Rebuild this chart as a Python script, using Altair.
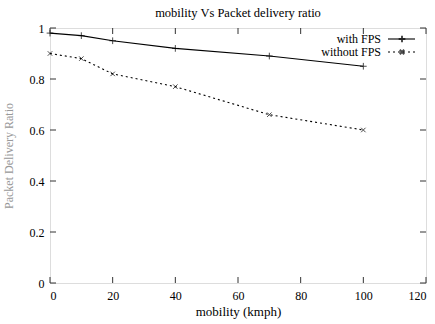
import altair as alt
import pandas as pd

mobility = [0, 10, 20, 40, 70, 100]
with_fps = [0.98, 0.97, 0.95, 0.92, 0.89, 0.85]
without_fps = [0.90, 0.88, 0.82, 0.77, 0.66, 0.60]
series_names = ["with FPS", "without FPS"]
x_ticks = [0, 20, 40, 60, 80, 100, 120]
y_ticks = [0, 0.2, 0.4, 0.6, 0.8, 1.0]

W, H = 376, 255
FONT = "Liberation Serif"

df1 = pd.DataFrame({"x": mobility, "y": with_fps, "s": series_names[0]})
df2 = pd.DataFrame({"x": mobility, "y": without_fps, "s": series_names[1]})
xt = pd.DataFrame({"v": x_ticks})
yt = pd.DataFrame({"v": y_ticks})

xscale = alt.Scale(domain=[0, 120], nice=False, zero=False)
yscale = alt.Scale(domain=[0, 1], nice=False, zero=False)

xaxis = alt.Axis(values=x_ticks, ticks=False, domain=False, grid=False, labelPadding=7,
                 title="mobility (kmph)", titlePadding=4, labelFontSize=12, titleFontSize=13,
                 labelFont=FONT, titleFont=FONT, titleFontWeight="normal", labelColor="black",
                 titleColor="black", format="d")
yaxis = alt.Axis(values=y_ticks, ticks=False, domain=False, grid=False, labelPadding=6,
                 title="Packet Delivery Ratio", titlePadding=14, labelFontSize=12,
                 labelFont=FONT, titleFont=FONT, titleFontWeight="normal", labelColor="black",
                 titleFontSize=12, titleColor="#999",
                 labelExpr="datum.value == 0 || datum.value == 1 ? format(datum.value, 'd') : format(datum.value, '.1f')")

PLUS = "M-1,0L1,0M0,-1L0,1"
CROSS = "M-1,-1L1,1M-1,1L1,-1"

line1 = alt.Chart(df1).mark_line(color="black", strokeWidth=1.1).encode(
    x=alt.X("x:Q", scale=xscale, axis=xaxis),
    y=alt.Y("y:Q", scale=yscale, axis=yaxis),
)
pts1 = alt.Chart(df1).mark_point(shape=PLUS, size=45, color="black", strokeWidth=1, filled=False).encode(
    x=alt.X("x:Q", scale=xscale), y=alt.Y("y:Q", scale=yscale)
)
line2 = alt.Chart(df2).mark_line(color="black", strokeWidth=1.1, strokeDash=[2, 3]).encode(
    x=alt.X("x:Q", scale=xscale), y=alt.Y("y:Q", scale=yscale)
)
pts2 = alt.Chart(df2).mark_point(shape=CROSS, size=20, color="black", strokeWidth=1, filled=False).encode(
    x=alt.X("x:Q", scale=xscale), y=alt.Y("y:Q", scale=yscale)
)

tick_col = "#333"
xt_bot = alt.Chart(xt).mark_rule(color=tick_col).encode(
    x=alt.X("v:Q", scale=xscale), y=alt.value(H), y2=alt.value(H - 6))
xt_top = alt.Chart(xt).mark_rule(color=tick_col).encode(
    x=alt.X("v:Q", scale=xscale), y=alt.value(0), y2=alt.value(6))
yt_left = alt.Chart(yt).mark_rule(color=tick_col).encode(
    y=alt.Y("v:Q", scale=yscale), x=alt.value(0), x2=alt.value(6))
yt_right = alt.Chart(yt).mark_rule(color=tick_col).encode(
    y=alt.Y("v:Q", scale=yscale), x=alt.value(W), x2=alt.value(W - 6))

R1, R2 = 11, 24
leg1 = pd.DataFrame({"label": [series_names[0]]})
leg2 = pd.DataFrame({"label": [series_names[1]]})
leg_text1 = alt.Chart(leg1).mark_text(align="right", baseline="middle", font=FONT, fontSize=12, color="black").encode(
    text="label:N", x=alt.value(W - 45), y=alt.value(R1))
leg_text2 = alt.Chart(leg2).mark_text(align="right", baseline="middle", font=FONT, fontSize=12, color="black").encode(
    text="label:N", x=alt.value(W - 45), y=alt.value(R2))
leg_line1 = alt.Chart(leg1).mark_rule(color="black", strokeWidth=1.1).encode(
    x=alt.value(W - 38), x2=alt.value(W - 11), y=alt.value(R1))
leg_pt1 = alt.Chart(leg1).mark_point(shape=PLUS, size=45, color="black", filled=False).encode(
    x=alt.value(W - 24), y=alt.value(R1))
leg_line2 = alt.Chart(leg2).mark_rule(color="black", strokeWidth=1.1, strokeDash=[2, 3]).encode(
    x=alt.value(W - 38), x2=alt.value(W - 11), y=alt.value(R2))
leg_pt2 = alt.Chart(leg2).mark_point(shape=CROSS, size=20, color="black", filled=False).encode(
    x=alt.value(W - 24), y=alt.value(R2))

chart = alt.layer(
    line1, pts1, line2, pts2, xt_bot, xt_top, yt_left, yt_right,
    leg_text1, leg_text2, leg_line1, leg_pt1, leg_line2, leg_pt2,
).properties(
    width=W, height=H,
    title=alt.Title("mobility Vs Packet delivery ratio", font=FONT, fontSize=12.5, fontWeight="normal",
                    anchor="middle", offset=3, color="black"),
    autosize=alt.AutoSizeParams(type="none"),
    padding={"left": 50, "top": 28, "right": 9, "bottom": 41},
).configure_view(stroke="#444", strokeWidth=1.2).configure(background="white")

chart.save("out.html", embed_options={"renderer": "svg", "actions": False})
